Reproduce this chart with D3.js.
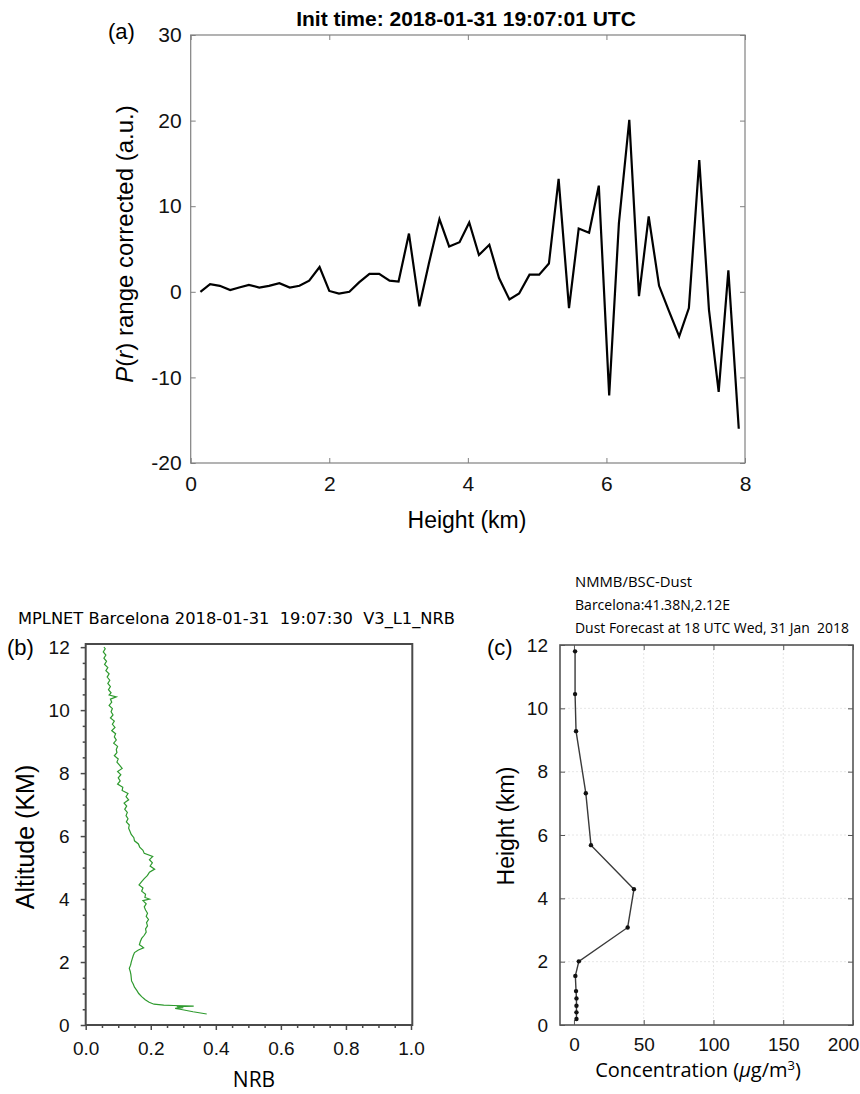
<!DOCTYPE html>
<html>
<head>
<meta charset="utf-8">
<script src="https://cdn.jsdelivr.net/npm/d3@7"></script>
<style>
  body { margin: 0; background: #fff; }
  svg { display: block; }
</style>
</head>
<body>
<svg width="860" height="1094"></svg>
<script>
// (a) lidar range corrected signal vs height
const aHeight = [0.14, 0.28, 0.42, 0.57, 0.70, 0.84, 0.99, 1.13, 1.28, 1.43,
  1.57, 1.71, 1.86, 2.00, 2.14, 2.29, 2.43, 2.58, 2.72, 2.87,
  3.00, 3.15, 3.30, 3.44, 3.59, 3.73, 3.88, 4.02, 4.16, 4.31,
  4.45, 4.60, 4.74, 4.89, 5.03, 5.17, 5.31, 5.46, 5.60, 5.75,
  5.89, 6.04, 6.18, 6.33, 6.47, 6.61, 6.76, 6.90, 7.05, 7.19,
  7.34, 7.48, 7.62, 7.76, 7.91];
const aSignal = [0.0, 0.9, 0.7, 0.2, 0.5, 0.8, 0.5, 0.7, 1.0, 0.5,
  0.7, 1.3, 2.9, 0.1, -0.2, 0.0, 1.1, 2.1, 2.1, 1.3,
  1.2, 6.8, -1.7, 3.4, 8.5, 5.3, 5.8, 8.1, 4.3, 5.5,
  1.6, -0.9, -0.2, 2.0, 2.0, 3.3, 13.2, -1.9, 7.4, 6.9,
  12.4, -12.1, 8.0, 20.1, -0.5, 8.8, 0.7, -2.2, -5.2, -1.9,
  15.4, -2.1, -11.7, 2.5, -16.0];
const aXTicks = [0, 2, 4, 6, 8];
const aYTicks = [-20, -10, 0, 10, 20, 30];

// (b) MPLNET NRB profile
const bAltitude = [0.35, 0.42, 0.50, 0.53, 0.55, 0.58, 0.60, 0.62, 0.63, 0.66,
  0.72, 0.80, 0.90, 1.00, 1.10, 1.20, 1.30, 1.40, 1.50, 1.60,
  1.70, 1.80, 1.90, 2.00, 2.10, 2.20, 2.30, 2.38, 2.45, 2.50,
  2.55, 2.65, 2.75, 2.85, 2.95, 3.05, 3.15, 3.25, 3.35, 3.45,
  3.55, 3.65, 3.75, 3.85, 3.95, 4.00, 4.05, 4.15, 4.25, 4.35,
  4.45, 4.55, 4.65, 4.75, 4.85, 4.95, 5.05, 5.15, 5.25, 5.35,
  5.45, 5.55, 5.65, 5.75, 5.85, 5.95, 6.05, 6.15, 6.25, 6.35,
  6.45, 6.55, 6.65, 6.75, 6.85, 6.95, 7.05, 7.15, 7.25, 7.35,
  7.45, 7.55, 7.65, 7.75, 7.85, 7.95, 8.05, 8.15, 8.25, 8.35,
  8.45, 8.55, 8.65, 8.75, 8.85, 8.95, 9.05, 9.15, 9.25, 9.35,
  9.45, 9.55, 9.65, 9.75, 9.85, 9.95, 10.05, 10.15, 10.25, 10.35,
  10.42, 10.48, 10.55, 10.65, 10.75, 10.85, 10.95, 11.05, 11.15, 11.25,
  11.35, 11.45, 11.55, 11.65, 11.75, 11.85, 11.95, 12.00];
const bNrb = [0.372, 0.330, 0.290, 0.275, 0.300, 0.280, 0.332, 0.270, 0.240, 0.210,
  0.195, 0.183, 0.172, 0.163, 0.157, 0.150, 0.146, 0.141, 0.140, 0.139,
  0.137, 0.134, 0.138, 0.140, 0.143, 0.146, 0.150, 0.162, 0.178, 0.172,
  0.165, 0.168, 0.172, 0.180, 0.186, 0.184, 0.190, 0.187, 0.193, 0.186,
  0.190, 0.184, 0.180, 0.186, 0.176, 0.196, 0.182, 0.184, 0.172, 0.176,
  0.164, 0.172, 0.180, 0.190, 0.196, 0.212, 0.198, 0.205, 0.196, 0.206,
  0.180, 0.176, 0.166, 0.162, 0.150, 0.148, 0.140, 0.136, 0.132, 0.134,
  0.125, 0.130, 0.124, 0.128, 0.120, 0.126, 0.118, 0.132, 0.124, 0.130,
  0.112, 0.114, 0.098, 0.106, 0.100, 0.108, 0.098, 0.112, 0.104, 0.096,
  0.100, 0.088, 0.096, 0.094, 0.098, 0.086, 0.094, 0.088, 0.092, 0.080,
  0.090, 0.082, 0.088, 0.076, 0.084, 0.078, 0.082, 0.072, 0.080, 0.076,
  0.094, 0.072, 0.078, 0.070, 0.076, 0.068, 0.074, 0.066, 0.072, 0.062,
  0.068, 0.058, 0.064, 0.056, 0.062, 0.054, 0.060, 0.056];
const bXTicks = [0, 0.2, 0.4, 0.6, 0.8, 1.0];
const bXMinor = [0.05, 0.1, 0.15, 0.25, 0.3, 0.35, 0.45, 0.5, 0.55, 0.65, 0.7, 0.75, 0.85, 0.9, 0.95];
const bYTicks = [0, 2, 4, 6, 8, 10, 12];
const bYMinor = [0.5, 1, 1.5, 2.5, 3, 3.5, 4.5, 5, 5.5, 6.5, 7, 7.5, 8.5, 9, 9.5, 10.5, 11, 11.5];

// (c) NMMB/BSC-Dust forecast profile
const cHeight = [0.19, 0.40, 0.61, 0.84, 1.07, 1.55, 2.01, 3.08, 4.29, 5.68, 7.32, 9.28, 10.45, 11.80];
const cConc = [1.8, 1.8, 1.8, 1.8, 1.5, 1.0, 3.5, 38.5, 43.0, 12.2, 8.5, 1.5, 0.8, 0.8];
const cXTicks = [0, 50, 100, 150, 200];
const cYTicks = [0, 2, 4, 6, 8, 10, 12];

const svg = d3.select("svg");
const ARIAL = "'Liberation Sans', Arial, sans-serif";
const CALIBRI = "'Open Sans', 'Noto Sans', sans-serif";
const plain = d => String(d);   // keep the ascii hyphen for negatives

// small helper: style a d3 axis group
function styleAxis(g, color, size, font) {
    g.select(".domain").remove();
    g.selectAll(".tick line").attr("stroke", color);
    g.selectAll(".tick text")
        .attr("fill", "#111")
        .style("font-family", font || ARIAL)
        .style("font-size", size + "px");
}

//
// Panel (a)
//
const ax = d3.scaleLinear().domain([0, 8]).range([190.7, 745]);
const ay = d3.scaleLinear().domain([-20, 30]).range([463, 35]);
const ga = svg.append("g");

ga.append("g").attr("transform", "translate(0,463)")
    .call(d3.axisBottom(ax).tickValues(aXTicks).tickSizeInner(-5).tickSizeOuter(0).tickPadding(13).tickFormat(plain))
    .call(g => styleAxis(g, "#808080", 21));
ga.append("g").attr("transform", "translate(0,35)")
    .call(d3.axisTop(ax).tickValues(aXTicks).tickSizeInner(-5).tickSizeOuter(0).tickFormat(""))
    .call(g => styleAxis(g, "#808080", 21));
ga.append("g").attr("transform", "translate(190.7,0)")
    .call(d3.axisLeft(ay).tickValues(aYTicks).tickSizeInner(-5).tickSizeOuter(0).tickPadding(9).tickFormat(plain))
    .call(g => styleAxis(g, "#808080", 21));
ga.append("g").attr("transform", "translate(745,0)")
    .call(d3.axisRight(ay).tickValues(aYTicks).tickSizeInner(-5).tickSizeOuter(0).tickFormat(""))
    .call(g => styleAxis(g, "#808080", 21));

ga.append("rect")
    .attr("x", ax(0)).attr("y", ay(30))
    .attr("width", ax(8) - ax(0)).attr("height", ay(-20) - ay(30))
    .attr("fill", "none").attr("stroke", "#808080").attr("stroke-width", 1.2);

ga.append("path")
    .datum(aHeight.map((h, i) => [h, aSignal[i]]))
    .attr("fill", "none").attr("stroke", "#000").attr("stroke-width", 2.2)
    .attr("stroke-linejoin", "miter")
    .attr("d", d3.line().x(d => ax(d[0])).y(d => ay(d[1])));

ga.append("text").attr("x", 466).attr("y", 26).attr("text-anchor", "middle")
    .style("font-family", ARIAL).style("font-size", "21px").style("font-weight", "bold")
    .text("Init time: 2018-01-31 19:07:01 UTC");
ga.append("text").attr("x", 108).attr("y", 39)
    .style("font-family", ARIAL).style("font-size", "22px").text("(a)");
ga.append("text").attr("x", 467).attr("y", 528).attr("text-anchor", "middle")
    .style("font-family", ARIAL).style("font-size", "23px").text("Height (km)");
const aLab = ga.append("text").attr("transform", "translate(133,244) rotate(-90)")
    .attr("text-anchor", "middle")
    .style("font-family", ARIAL).style("font-size", "24px");
aLab.append("tspan").style("font-style", "italic").text("P");
aLab.append("tspan").text("(");
aLab.append("tspan").style("font-style", "italic").text("r");
aLab.append("tspan").text(") range corrected (a.u.)");

//
// Panel (b)
//
const bx = d3.scaleLinear().domain([0, 1]).range([85.7, 411]);
const by = d3.scaleLinear().domain([0, 12.1]).range([1025, 644]);
const gb = svg.append("g");

gb.append("rect")
    .attr("x", bx(0)).attr("y", by(12.1))
    .attr("width", 412.3 - bx(0)).attr("height", by(0) - by(12.1))
    .attr("fill", "none").attr("stroke", "#4a4a4a").attr("stroke-width", 2);

gb.append("g").attr("transform", "translate(0,1025)")
    .call(d3.axisBottom(bx).tickValues(bXMinor).tickSize(3).tickFormat(""))
    .call(g => styleAxis(g, "#4a4a4a", 19));
gb.append("g").attr("transform", "translate(0,1025)")
    .call(d3.axisBottom(bx).tickValues(bXTicks).tickSize(5).tickPadding(12).tickFormat(d3.format(".1f")))
    .call(g => styleAxis(g, "#4a4a4a", 19));
gb.append("g").attr("transform", "translate(85.7,0)")
    .call(d3.axisLeft(by).tickValues(bYMinor).tickSize(3).tickFormat(""))
    .call(g => styleAxis(g, "#4a4a4a", 19));
gb.append("g").attr("transform", "translate(85.7,0)")
    .call(d3.axisLeft(by).tickValues(bYTicks).tickSize(5).tickPadding(11).tickFormat(plain))
    .call(g => styleAxis(g, "#4a4a4a", 19));
gb.selectAll(".tick line").attr("stroke-width", 1.5);

gb.append("path")
    .datum(bAltitude.map((h, i) => [bNrb[i], h]))
    .attr("fill", "none").attr("stroke", "#2e9a2e").attr("stroke-width", 1.2)
    .attr("d", d3.line().x(d => bx(d[0])).y(d => by(d[1])));

gb.append("text").attr("x", 18).attr("y", 624)
    .attr("textLength", 437).attr("lengthAdjust", "spacingAndGlyphs")
    .style("font-family", "'DejaVu Sans', sans-serif").style("font-size", "16px")
    .style("white-space", "pre")
    .text("MPLNET Barcelona 2018-01-31  19:07:30  V3_L1_NRB");
gb.append("text").attr("x", 7).attr("y", 655)
    .style("font-family", ARIAL).style("font-size", "22px").text("(b)");
gb.append("text").attr("transform", "translate(34,837) rotate(-90)")
    .attr("text-anchor", "middle")
    .style("font-family", ARIAL).style("font-size", "25px").text("Altitude (KM)");
gb.append("text").attr("x", 254).attr("y", 1087).attr("text-anchor", "middle")
    .style("font-family", CALIBRI).style("font-size", "21px").text("NRB");

//
// Panel (c)
//
const cx = d3.scaleLinear().domain([-10, 200]).range([560, 853]);
const cy = d3.scaleLinear().domain([0, 12]).range([1025, 645]);
const gc = svg.append("g");

// faint grid
gc.append("g").selectAll("line").data(cXTicks.slice(1, 4)).join("line")
    .attr("x1", d => cx(d)).attr("x2", d => cx(d)).attr("y1", cy(12)).attr("y2", cy(0))
    .attr("stroke", "#e6e6e6").attr("stroke-dasharray", "2,2");
gc.append("g").selectAll("line").data(cYTicks.slice(1, 6)).join("line")
    .attr("x1", cx(-10)).attr("x2", cx(200)).attr("y1", d => cy(d)).attr("y2", d => cy(d))
    .attr("stroke", "#e6e6e6").attr("stroke-dasharray", "2,2");

gc.append("g").attr("transform", "translate(0,1025)")
    .call(d3.axisBottom(cx).tickValues(cXTicks).tickSizeInner(-5).tickSizeOuter(0).tickPadding(13).tickFormat(plain))
    .call(g => styleAxis(g, "#555", 19))
    .call(g => g.selectAll(".tick text").filter(d => d === 200).attr("x", -10));
gc.append("g").attr("transform", "translate(0,645)")
    .call(d3.axisTop(cx).tickValues(cXTicks).tickSizeInner(-5).tickSizeOuter(0).tickFormat(""))
    .call(g => styleAxis(g, "#555", 19));
gc.append("g").attr("transform", "translate(560,0)")
    .call(d3.axisLeft(cy).tickValues(cYTicks).tickSizeInner(-5).tickSizeOuter(0).tickPadding(12).tickFormat(plain))
    .call(g => styleAxis(g, "#555", 19));
gc.append("g").attr("transform", "translate(853,0)")
    .call(d3.axisRight(cy).tickValues(cYTicks).tickSizeInner(-5).tickSizeOuter(0).tickFormat(""))
    .call(g => styleAxis(g, "#555", 19));

gc.append("rect")
    .attr("x", cx(-10)).attr("y", cy(12))
    .attr("width", cx(200) - cx(-10)).attr("height", cy(0) - cy(12))
    .attr("fill", "none").attr("stroke", "#555").attr("stroke-width", 1.6);

const cPts = cHeight.map((h, i) => [cConc[i], h]);
gc.append("path").datum(cPts)
    .attr("fill", "none").attr("stroke", "#3a3a3a").attr("stroke-width", 1.4)
    .attr("d", d3.line().x(d => cx(d[0])).y(d => cy(d[1])));
gc.append("g").selectAll("circle").data(cPts).join("circle")
    .attr("cx", d => cx(d[0])).attr("cy", d => cy(d[1])).attr("r", 2.2)
    .attr("fill", "#111");

const cHead = ["NMMB/BSC-Dust", "Barcelona:41.38N,2.12E", "Dust Forecast at 18 UTC Wed, 31 Jan  2018"];
const cHeadW = [117, 155, 274];
gc.append("g").selectAll("text").data(cHead).join("text")
    .attr("x", 575).attr("y", (d, i) => 587 + i * 23)
    .attr("textLength", (d, i) => cHeadW[i]).attr("lengthAdjust", "spacingAndGlyphs")
    .style("font-family", CALIBRI).style("font-size", "14px")
    .style("white-space", "pre")
    .text(d => d);
gc.append("text").attr("x", 487).attr("y", 655)
    .style("font-family", ARIAL).style("font-size", "22px").text("(c)");
gc.append("text").attr("transform", "translate(514,826) rotate(-90)")
    .attr("text-anchor", "middle")
    .style("font-family", ARIAL).style("font-size", "23px").text("Height (km)");
const cLab = gc.append("text").attr("x", 698).attr("y", 1077).attr("text-anchor", "middle")
    .style("font-family", CALIBRI).style("font-size", "20px");
cLab.append("tspan").text("Concentration (");
cLab.append("tspan").style("font-style", "italic").text("\u03bc");
cLab.append("tspan").text("g/m");
cLab.append("tspan").attr("dy", -7).style("font-size", "13px").text("3");
cLab.append("tspan").attr("dy", 7).text(")");
</script>
</body>
</html>
